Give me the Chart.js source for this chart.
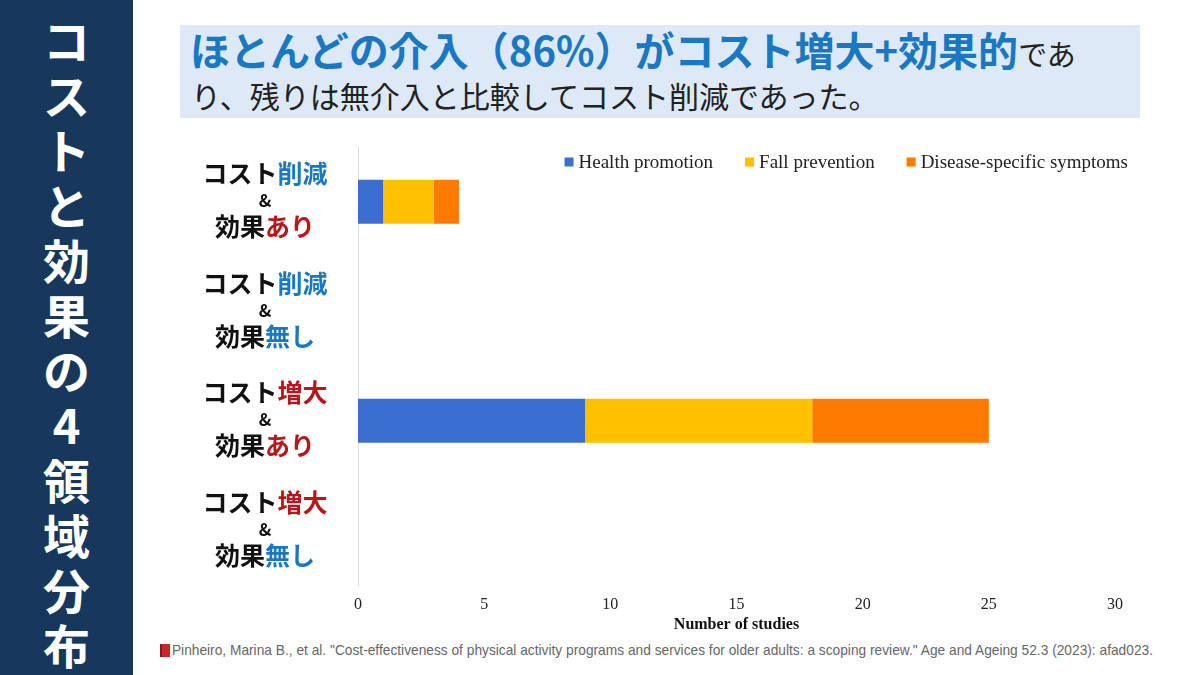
<!DOCTYPE html>
<html lang="ja">
<head>
<meta charset="utf-8">
<script src="https://cdn.jsdelivr.net/npm/chart.js@4.4.1/dist/chart.umd.min.js"></script>
<style>
  html,body{margin:0;padding:0;background:#fff;}
  body{width:1200px;height:675px;position:relative;overflow:hidden;font-family:"Noto Sans CJK JP","Noto Sans",sans-serif;}
  #side{position:absolute;left:0;top:0;width:133px;height:675px;background:#17385c;}
  #side span{display:block;height:55px;line-height:55px;text-align:center;color:#fff;font-weight:700;font-size:47px;}
  #side .wrap{position:absolute;top:11px;left:0;width:133px;}
  #head{position:absolute;left:180px;top:25px;width:960px;height:93px;background:#dde9f6;}
  #head .l1{position:absolute;left:10px;top:0px;white-space:nowrap;color:#1a78c2;font-weight:700;font-size:40px;line-height:48px;}
  #head .l1 small{font-weight:400;font-size:29px;color:#222;}
  #head .l2{position:absolute;left:11px;top:51px;white-space:nowrap;color:#222;font-size:30px;line-height:38px;}
  #cite{position:absolute;left:160px;top:641px;white-space:nowrap;color:#666;font-family:"Liberation Sans",Arial,sans-serif;font-size:15px;line-height:18px;transform-origin:0 50%;}
  #cite i{display:inline-block;width:11px;height:13px;background:#c8262c;border-left:2px solid #8e1418;box-sizing:border-box;vertical-align:-2px;margin-right:2px;}
  #wrap{position:absolute;left:0;top:0;width:1200px;height:675px;}
</style>
</head>
<body>
<div id="side"><div class="wrap"><span>コ</span><span>ス</span><span>ト</span><span>と</span><span>効</span><span>果</span><span>の</span><span>4</span><span>領</span><span>域</span><span>分</span><span>布</span></div></div>
<div id="head">
  <div class="l1">ほとんどの介入（86%）がコスト増大+効果的<small>であ</small></div>
  <div class="l2">り、残りは無介入と比較してコスト削減であった。</div>
</div>
<div id="cite"><i></i>Pinheiro, Marina B., et al. "Cost-effectiveness of physical activity programs and services for older adults: a scoping review." Age and Ageing 52.3 (2023): afad023.</div>
<div id="wrap"><canvas id="c"></canvas></div>
<script>
/* ------------ data ------------ */
const CATEGORIES = [
  ['コスト削減','&','効果あり'],
  ['コスト削減','&','効果無し'],
  ['コスト増大','&','効果あり'],
  ['コスト増大','&','効果無し']
];
const SERIES      = ['Health promotion','Fall prevention','Disease-specific symptoms'];
const HEALTH      = [1, 0, 9, 0];
const FALL        = [2, 0, 9, 0];
const DISEASE     = [1, 0, 7, 0];
const X_TICKS     = [0, 5, 10, 15, 20, 25, 30];

/* ------------ style ------------ */
const COLORS = ['#3a6fcf','#ffc000','#ff7b00'];
const HILITE = {'削減':'#1a78c2','無し':'#1a78c2','増大':'#b8161b','あり':'#b8161b'};
const SERIF  = '"Liberation Serif","Times New Roman",serif';
const JP     = '"Noto Sans CJK JP","Noto Sans",sans-serif';

/* citation squeezed to the reference width */
const cite = document.getElementById('cite');
cite.style.transform = `scaleX(${(1153 - 160) / cite.getBoundingClientRect().width})`;

/* y labels with coloured words, drawn at the scale's own tick positions */
const yLabels = {
  id:'yLabels',
  afterDraw(chart){
    const {ctx, scales:{y}} = chart;
    const cx = 265, offs = [-28, -1, 25];
    ctx.save();
    ctx.textBaseline = 'middle';
    CATEGORIES.forEach((lines, i) => {
      const yc = y.getPixelForValue(i);
      lines.forEach((line, j) => {
        const py = yc + offs[j];
        if(line === '&'){
          ctx.font = `700 17px ${JP}`; ctx.fillStyle = '#111'; ctx.textAlign = 'center';
          ctx.fillText(line, cx, py); return;
        }
        ctx.font = `700 25px ${JP}`;
        const key  = Object.keys(HILITE).find(k => line.endsWith(k));
        const head = key ? line.slice(0, line.length - key.length) : line;
        const w1 = ctx.measureText(head).width, w2 = key ? ctx.measureText(key).width : 0;
        let x = cx - (w1 + w2) / 2;
        ctx.textAlign = 'left';
        ctx.fillStyle = '#111'; ctx.fillText(head, x, py);
        if(key){ ctx.fillStyle = HILITE[key]; ctx.fillText(key, x + w1, py); }
      });
    });
    ctx.restore();
  }
};

/* legend in the top-right of the plot */
const topLegend = {
  id:'topLegend',
  afterDraw(chart){
    const {ctx} = chart;
    const right = 1128, yc = 162, box = 9, gapTxt = 5, gapItem = 32;
    ctx.save();
    ctx.font = `19px ${SERIF}`;
    ctx.textBaseline = 'middle';
    const ds = chart.data.datasets;
    const widths = ds.map(d => box + gapTxt + ctx.measureText(d.label).width);
    let x = right - widths.reduce((a,b)=>a+b,0) - gapItem * (ds.length - 1);
    ds.forEach((d, i) => {
      ctx.fillStyle = d.backgroundColor;
      ctx.fillRect(x, yc - box/2, box, box);
      ctx.fillStyle = '#222';
      ctx.fillText(d.label, x + box + gapTxt, yc + 1);
      x += widths[i] + gapItem;
    });
    ctx.restore();
  }
};

const VALUES = [HEALTH, FALL, DISEASE];
new Chart(document.getElementById('c'), {
  type:'bar',
  data:{
    labels: CATEGORIES.map(c => c.join(' ')),
    datasets: SERIES.map((s, i) => ({
      label: s, data: VALUES[i], backgroundColor: COLORS[i],
      barPercentage: 0.4, categoryPercentage: 1.0, borderWidth: 0
    }))
  },
  options:{
    indexAxis:'y',
    responsive:true, maintainAspectRatio:false, animation:false,
    layout:{padding:{left:0, right:85, top:147, bottom:40}},
    plugins:{legend:{display:false}, tooltip:{enabled:false}},
    scales:{
      x:{
        stacked:true, min:0, max:30,
        afterBuildTicks(scale){ scale.ticks = X_TICKS.map(v => ({value:v})); },
        afterFit(scale){ scale.height = 50; },
        grid:{display:false, drawTicks:false},
        border:{display:false},
        ticks:{color:'#222', padding:10, font:{family:SERIF, size:16}},
        title:{display:true, text:'Number of studies', color:'#111',
               font:{family:SERIF, size:16, weight:'bold'}, padding:{top:0, bottom:1}}
      },
      y:{
        stacked:true,
        afterFit(scale){ scale.width = 358; },
        grid:{display:false, drawTicks:false},
        border:{display:true, color:'#dcdcdc', width:1},
        ticks:{display:false}
      }
    }
  },
  plugins:[yLabels, topLegend]
});
</script>
</body>
</html>
